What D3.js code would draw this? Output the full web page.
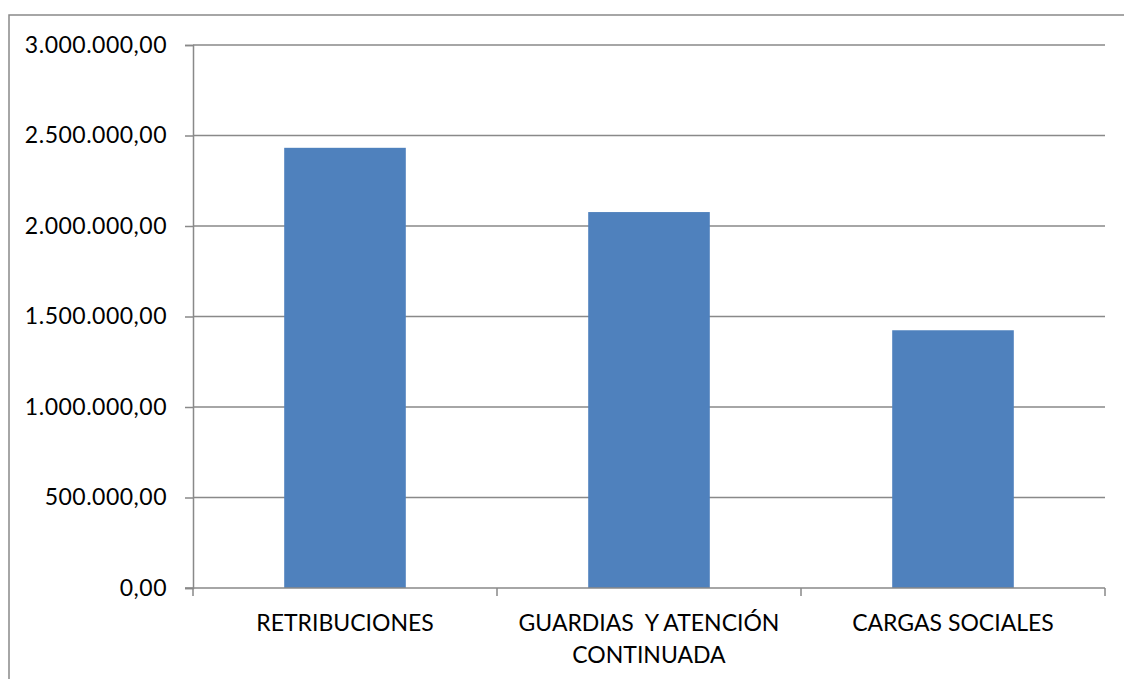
<!DOCTYPE html>
<html>
<head>
<meta charset="utf-8">
<script src="https://cdn.jsdelivr.net/npm/d3@7"></script>
<style>
  html, body { margin: 0; padding: 0; background: #fff; }
  svg text { font-family: Lato, "Open Sans", sans-serif; fill: #000; white-space: pre; }
</style>
</head>
<body>
<svg id="chart" width="1124" height="679"></svg>
<script>
const categories = ["RETRIBUCIONES", "GUARDIAS  Y ATENCIÓN\nCONTINUADA", "CARGAS SOCIALES"];
const values = [2432000, 2077000, 1424000];
const tickValues = [0, 500000, 1000000, 1500000, 2000000, 2500000, 3000000];
const tickLabels = ["0,00", "500.000,00", "1.000.000,00", "1.500.000,00", "2.000.000,00", "2.500.000,00", "3.000.000,00"];

const svg = d3.select("#chart");
const margin = { left: 193, right: 1105, top: 45, bottom: 588 };
const grey = "#898989";

// outer chart border (extends beyond the picture on right/bottom)
svg.append("rect")
  .attr("x", 9).attr("y", 15)
  .attr("width", 1140).attr("height", 700)
  .attr("fill", "none").attr("stroke", grey).attr("stroke-width", 1.5);

const x = d3.scaleBand().domain(categories)
  .range([margin.left, margin.right])
  .paddingInner(0.6).paddingOuter(0.3);
const y = d3.scaleLinear().domain([0, 3000000]).range([margin.bottom, margin.top]);

// gridlines
svg.append("g").selectAll("line").data(tickValues.slice(1)).join("line")
  .attr("x1", margin.left).attr("x2", margin.right)
  .attr("y1", d => y(d)).attr("y2", d => y(d))
  .attr("stroke", grey).attr("stroke-width", 1.5);

// bars
svg.append("g").selectAll("rect").data(values).join("rect")
  .attr("x", (d, i) => x(categories[i]))
  .attr("y", d => y(d))
  .attr("width", x.bandwidth())
  .attr("height", d => y(0) - y(d))
  .attr("fill", "#4f81bd");

// y axis
const yAxis = d3.axisLeft(y).tickValues(tickValues)
  .tickFormat((d, i) => tickLabels[i]).tickSize(8).tickPadding(18);
const gy = svg.append("g").attr("transform", `translate(${margin.left},0)`).call(yAxis);
gy.select(".domain").attr("stroke", grey).attr("stroke-width", 1.5);
gy.selectAll(".tick line").attr("stroke", grey).attr("stroke-width", 1.5);
gy.selectAll(".tick text").style("font-size", "23px").attr("fill", "#000")
  .style("letter-spacing", "0.5px")
  .style("font-family", "Lato, 'Open Sans', sans-serif");

// x axis baseline and boundary ticks
const gx = svg.append("g");
gx.append("line")
  .attr("x1", margin.left - 8).attr("x2", margin.right)
  .attr("y1", y(0)).attr("y2", y(0))
  .attr("stroke", grey).attr("stroke-width", 1.5);
const boundaries = [margin.left].concat(categories.map(c => x(c) + x.bandwidth() + x.step() * x.paddingInner() / 2));
boundaries[boundaries.length - 1] = margin.right;
gx.selectAll("line.b").data(boundaries).join("line").attr("class", "b")
  .attr("x1", d => d).attr("x2", d => d)
  .attr("y1", y(0)).attr("y2", y(0) + 8)
  .attr("stroke", grey).attr("stroke-width", 1.5);

// category labels
categories.forEach(c => {
  const lines = c.split("\n");
  const t = gx.append("text")
    .attr("x", x(c) + x.bandwidth() / 2)
    .attr("y", 631)
    .attr("text-anchor", "middle")
    .style("font-size", "23px");
  lines.forEach((l, i) => {
    t.append("tspan").attr("x", x(c) + x.bandwidth() / 2).attr("dy", i === 0 ? 0 : 32).text(l);
  });
});
</script>
</body>
</html>
